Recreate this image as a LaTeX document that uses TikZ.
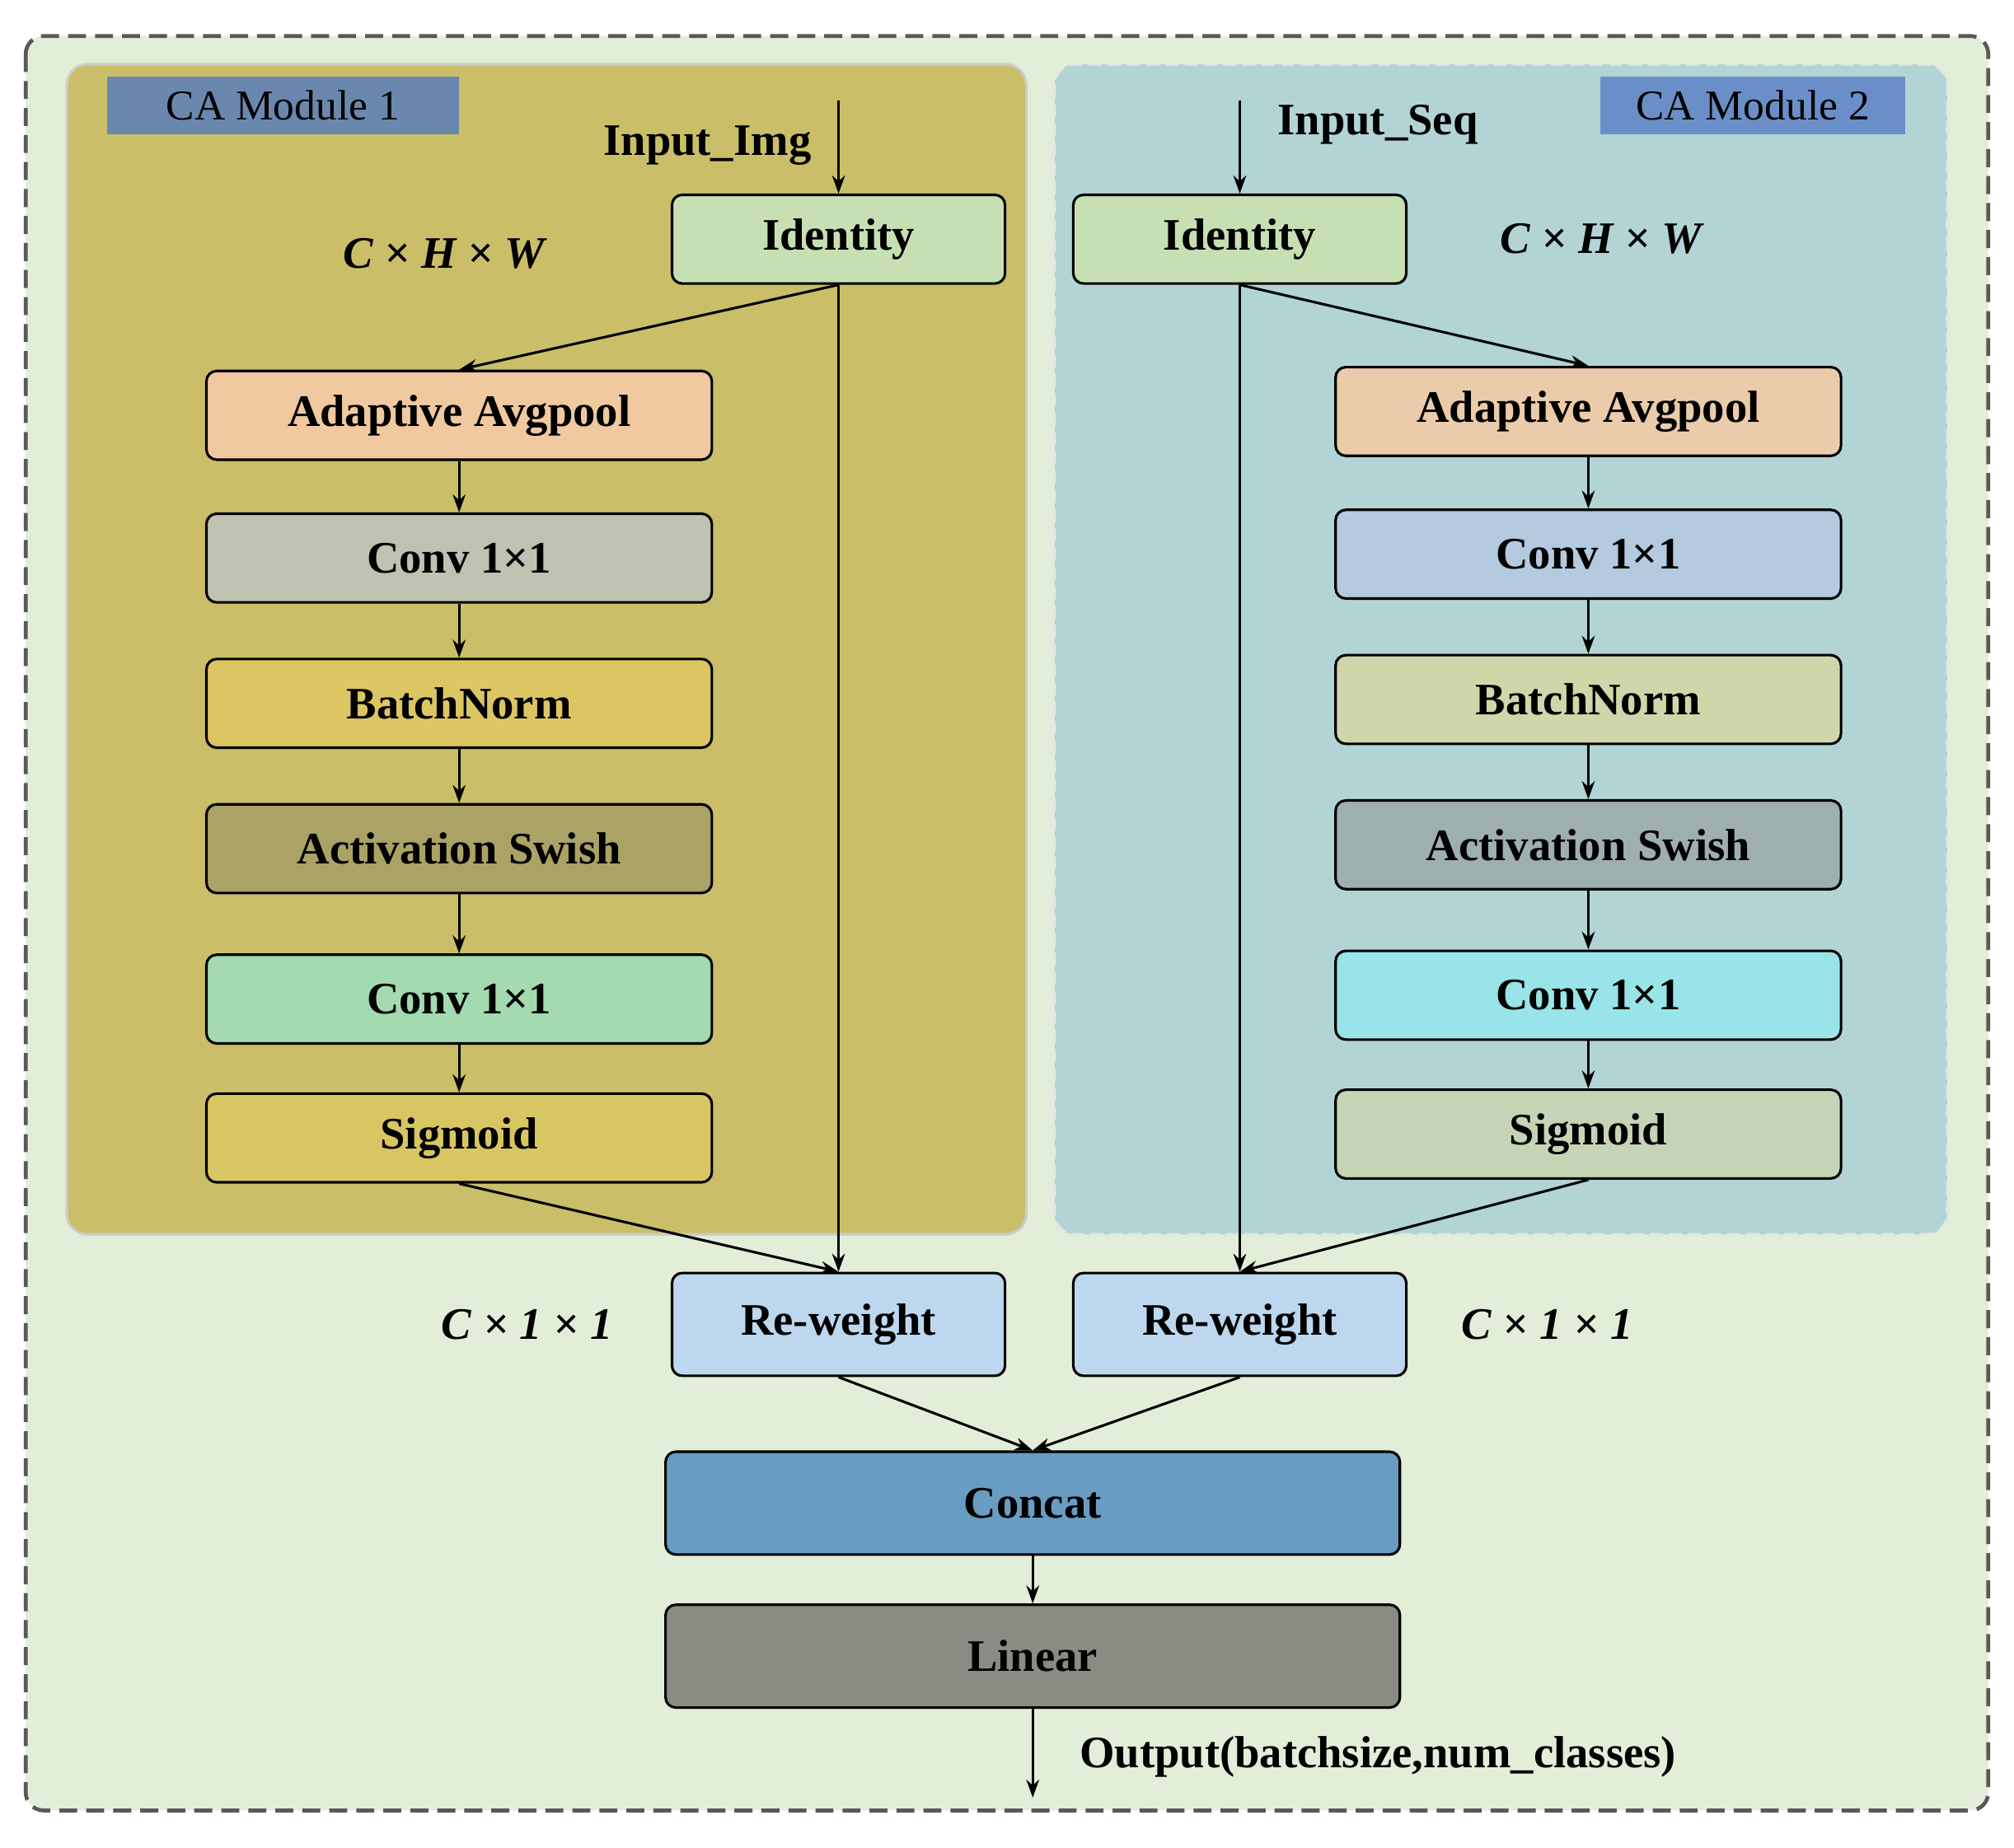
\documentclass[tikz,border=0pt]{standalone}
\usepackage{fontspec}
\setmainfont{Liberation Serif}
\usetikzlibrary{arrows.meta}
\definecolor{bgG}{HTML}{E3EED9}
\definecolor{pL}{HTML}{CBBE68}
\definecolor{pR}{HTML}{B3D4D5}
\tikzset{
 x=1pt,y=-1pt,
 blk/.style={draw=black,line width=2pt,rounded corners=8pt,font=\fontsize{35}{40}\selectfont\bfseries,inner sep=0pt},
 b1/.style={blk,minimum width=393pt,minimum height=69pt},
 b2/.style={blk,minimum width=259pt,minimum height=69pt},
 b3/.style={blk,minimum width=571pt,minimum height=80pt},
 ar/.style={draw=black,line width=2pt,-{Stealth[length=14pt,width=10pt]}},
 lab/.style={font=\fontsize{35}{40}\selectfont\bfseries},
 mth/.style={font=\fontsize{35}{40}\selectfont\bfseries\itshape},
}
\begin{document}
\begin{tikzpicture}
\useasboundingbox (0,0) rectangle (1566,1437);
\draw[fill=bgG,draw=black!65,line width=3pt,dash pattern=on 14pt off 7pt,rounded corners=14pt] (20,28) rectangle (1546,1408);
\draw[fill=pL,draw=black!20,line width=2pt,rounded corners=16pt] (52,50) rectangle (798,960);
\draw[fill=pR,draw=black!10,line width=2pt,dash pattern=on 10pt off 5pt,rounded corners=16pt] (820,50) rectangle (1514,960);
\node[fill={rgb,255:red,106;green,136;blue,174},minimum width=274pt,minimum height=45pt,font=\fontsize{33}{38}\selectfont] (m1) at (220,82) {CA Module 1};
\node[fill={rgb,255:red,106;green,143;blue,200},minimum width=237pt,minimum height=45pt,font=\fontsize{33}{38}\selectfont] (m2) at (1363,82) {CA Module 2};
% left
\node[b2,fill={rgb,255:red,198;green,224;blue,180}] (idL) at (652,186) {Identity};
\node[b1,fill={rgb,255:red,240;green,201;blue,160}] (apL) at (357,323) {Adaptive Avgpool};
\node[b1,fill={rgb,255:red,191;green,194;blue,176}] (c1L) at (357,434) {Conv 1×1};
\node[b1,fill={rgb,255:red,220;green,197;blue,99}] (bnL) at (357,547) {BatchNorm};
\node[b1,fill={rgb,255:red,171;green,162;blue,102}] (asL) at (357,660) {Activation Swish};
\node[b1,fill={rgb,255:red,163;green,218;blue,176}] (c2L) at (357,777) {Conv 1×1};
\node[b1,fill={rgb,255:red,216;green,198;blue,99}] (sgL) at (357,885) {Sigmoid};
\node[b2,minimum height=80pt,fill={rgb,255:red,189;green,215;blue,238}] (rwL) at (652,1030) {Re-weight};
% right
\node[b2,fill={rgb,255:red,198;green,224;blue,180}] (idR) at (964,186) {Identity};
\node[b1,fill={rgb,255:red,234;green,204;blue,170}] (apR) at (1235,320) {Adaptive Avgpool};
\node[b1,fill={rgb,255:red,180;green,202;blue,223}] (c1R) at (1235,431) {Conv 1×1};
\node[b1,fill={rgb,255:red,208;green,214;blue,170}] (bnR) at (1235,544) {BatchNorm};
\node[b1,fill={rgb,255:red,158;green,175;blue,176}] (asR) at (1235,657) {Activation Swish};
\node[b1,fill={rgb,255:red,152;green,228;blue,232}] (c2R) at (1235,774) {Conv 1×1};
\node[b1,fill={rgb,255:red,198;green,212;blue,182}] (sgR) at (1235,882) {Sigmoid};
\node[b2,minimum height=80pt,fill={rgb,255:red,189;green,215;blue,238}] (rwR) at (964,1030) {Re-weight};
\node[b3,fill={rgb,255:red,104;green,156;blue,192}] (cc) at (803,1169) {Concat};
\node[b3,fill={rgb,255:red,138;green,140;blue,132}] (ln) at (803,1288) {Linear};
% labels
\coordinate (inL) at (652,78);
\coordinate (inR) at (964,78);
\coordinate (out) at (803,1398);
\node[lab] (tL) at (550,113) {Input\_Img};
\node[lab,anchor=west] (tR) at (990,97) {Input\_Seq};
\node[lab,anchor=west] (tO) at (836,1366) {Output(batchsize,num\_classes)};
\node[mth] (dL) at (345,197) {C × H × W};
\node[mth] (dR) at (1245,186) {C × H × W};
\node[mth] (eL) at (410,1030) {C × 1 × 1};
\node[mth] (eR) at (1203,1030) {C × 1 × 1};
% edges
\draw[ar] (inL) -- (idL.north);
\draw[ar] (inR) -- (idR.north);
\draw[ar] (idL.south) -- (apL.north);
\draw[ar] (idL.south) -- (rwL.north);
\foreach \a/\b in {apL/c1L,c1L/bnL,bnL/asL,asL/c2L,c2L/sgL,apR/c1R,c1R/bnR,bnR/asR,asR/c2R,c2R/sgR,cc/ln}
 \draw[ar] (\a.south) -- (\b.north);
\draw[ar] (sgL.south) -- (rwL.north);
\draw[ar] (idR.south) -- (apR.north);
\draw[ar] (idR.south) -- (rwR.north);
\draw[ar] (sgR.south) -- (rwR.north);
\draw[ar] (rwL.south) -- (cc.north);
\draw[ar] (rwR.south) -- (cc.north);
\draw[ar] (ln.south) -- (out);
\end{tikzpicture}
\end{document}
